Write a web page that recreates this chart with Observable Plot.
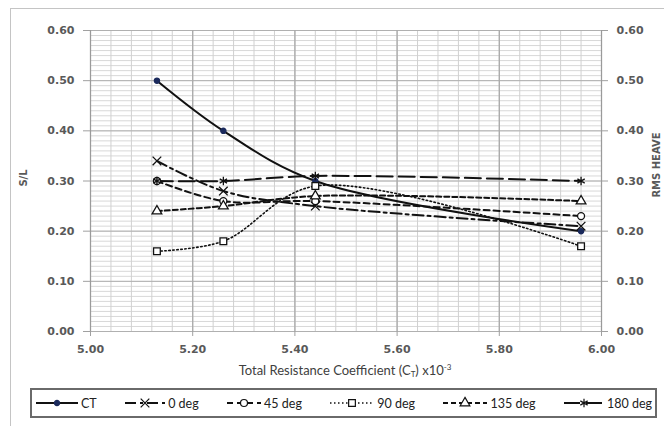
<!DOCTYPE html>
<html><head><meta charset="utf-8">
<script src="https://cdn.jsdelivr.net/npm/d3@7"></script>
<script src="https://cdn.jsdelivr.net/npm/@observablehq/plot@0.6"></script>
<style>
body{margin:0;background:#fff;}
#wrap{position:relative;width:664px;height:426px;overflow:hidden;background:#fff;}
#frame{position:absolute;left:10px;top:8px;width:720px;height:480px;border:1px solid #c4c4c4;}
#chart{position:absolute;left:0;top:0;}
#xtitle{position:absolute;left:345px;top:362px;transform:translateX(-50%);font:13px Lato,sans-serif;color:#404040;white-space:nowrap;}
#xtitle sub{font-size:8px;vertical-align:-2px;} #xtitle sup{font-size:8px;vertical-align:5px;}
.ylab{position:absolute;white-space:nowrap;font:bold 10px "DejaVu Sans",sans-serif;color:#595959;transform:translate(-50%,-50%) rotate(-90deg);}
#legend{position:absolute;left:30px;top:388px;width:627px;height:30px;border:2px solid #6a6a6a;box-sizing:border-box;display:flex;align-items:center;justify-content:space-between;padding:0 3px 0 4px;font:12.5px Lato,sans-serif;color:#222;}
#legend .item{display:flex;align-items:center;}
#legend svg{display:block;}
</style></head><body>
<div id="wrap">
<div id="frame"></div>
<div id="chart"></div>
<div id="xtitle">Total Resistance Coefficient (C<sub>T</sub>) x10<sup>-3</sup></div>
<div class="ylab" style="left:23px;top:178px;">S/L</div>
<div class="ylab" style="left:656px;top:165px;">RMS HEAVE</div>
<div id="legend"></div>
</div>
<script>
// ---- data ----
const series = ["CT", "0 deg", "45 deg", "90 deg", "135 deg", "180 deg"];
const xValues = [5.13, 5.26, 5.44, 5.96];
const ctValues     = [0.50, 0.40, 0.30, 0.20];
const deg0Values   = [0.34, 0.28, 0.25, 0.21];
const deg45Values  = [0.30, 0.26, 0.26, 0.23];
const deg90Values  = [0.16, 0.18, 0.29, 0.17];
const deg135Values = [0.24, 0.25, 0.27, 0.26];
const deg180Values = [0.30, 0.30, 0.31, 0.30];
const xTicks = [5.00, 5.20, 5.40, 5.60, 5.80, 6.00];
const yTicks = [0.00, 0.10, 0.20, 0.30, 0.40, 0.50, 0.60];

const values = [ctValues, deg0Values, deg45Values, deg90Values, deg135Values, deg180Values];
const rows = series.flatMap((s, i) => xValues.map((x, j) => ({series: s, x, y: values[i][j]})));

const style = {
  "CT":      {dash: null,        width: 2,   symbol: "circle",   fill: "#1b2a5c", stroke: "#1b2a5c", r: 2.6, legendW: 42},
  "0 deg":   {dash: "11,4,3,4",  width: 2,   symbol: "times",    fill: "none",    stroke: "#111", r: 4,   legendW: 40},
  "45 deg":  {dash: "6,4",       width: 2,   symbol: "circle",   fill: "white",   stroke: "#111", r: 3.5, legendW: 34},
  "90 deg":  {dash: "1.5,2.5",   width: 1.6, symbol: "square",   fill: "white",   stroke: "#111", r: 3.8, legendW: 44},
  "135 deg": {dash: "5,3",       width: 2,   symbol: "triangle", fill: "white",   stroke: "#111", r: 3.6, legendW: 44},
  "180 deg": {dash: "16,6",      width: 2,   symbol: "asterisk", fill: "none",    stroke: "#111", r: 4,   legendW: 40}
};

const yMinor = d3.range(0, 61).map(i => i / 100);
const xMinor = d3.range(0, 26).map(i => 5 + i * 0.04);

const marks = [
  Plot.ruleY(yMinor, {stroke: "#d8d8d8", strokeWidth: 1}),
  Plot.ruleX(xMinor, {stroke: "#d0d0d0", strokeWidth: 1}),
  Plot.ruleY(yTicks, {stroke: "#b0b0b0", strokeWidth: 1}),
  Plot.ruleX(xTicks, {stroke: "#aaaaaa", strokeWidth: 1.3}),
  Plot.ruleX([5, 6], {stroke: "#9a9a9a", strokeWidth: 1}),
  Plot.axisY(yTicks, {anchor: "left", tickFormat: d => d.toFixed(2), tickSize: 7, tickPadding: 9, fontSize: 11, fontWeight: "bold", stroke: "#a0a0a0", fill: "#595959", label: null}),
  Plot.axisY(yTicks, {anchor: "right", tickFormat: d => d.toFixed(2), tickSize: 6, tickPadding: 9, fontSize: 11, fontWeight: "bold", stroke: "#a0a0a0", fill: "#595959", label: null}),
  Plot.axisX(xTicks, {anchor: "bottom", tickFormat: d => d.toFixed(2), tickSize: 5, tickPadding: 9, fontSize: 11, fontWeight: "bold", stroke: "#a0a0a0", fill: "#595959", label: null})
];
for (const s of series) {
  const st = style[s];
  const data = rows.filter(d => d.series === s);
  marks.push(Plot.line(data, {x: "x", y: "y", stroke: "#111", strokeWidth: st.width, strokeDasharray: st.dash, curve: "catmull-rom"}));
}
for (const s of series) {
  const st = style[s];
  const data = rows.filter(d => d.series === s);
  marks.push(Plot.dot(data, {x: "x", y: "y", symbol: () => st.symbol, r: st.r, fill: st.fill, stroke: st.stroke, strokeWidth: 1.3}));
}

const chart = Plot.plot({
  width: 664, height: 380,
  marginLeft: 90, marginRight: 63, marginTop: 30, marginBottom: 49,
  x: {domain: [5, 6], axis: null},
  y: {domain: [0, 0.6], axis: null},
  symbol: {type: "identity"},
  style: {fontFamily: "'DejaVu Sans', sans-serif", background: "transparent", overflow: "visible"},
  marks
});
document.getElementById("chart").append(chart);

// legend
const legend = d3.select("#legend");
const symMap = {circle: d3.symbolCircle, times: d3.symbolTimes, square: d3.symbolSquare, triangle: d3.symbolTriangle, asterisk: d3.symbolAsterisk};
for (const s of series) {
  const st = style[s];
  const item = legend.append("div").attr("class", "item");
  const w = st.legendW;
  const svg = item.append("svg").attr("width", w).attr("height", 14);
  svg.append("line").attr("x1", 0).attr("x2", w).attr("y1", 7).attr("y2", 7)
    .attr("stroke", "#111").attr("stroke-width", st.width).attr("stroke-dasharray", st.dash);
  svg.append("path").attr("d", d3.symbol(symMap[st.symbol], Math.PI * st.r * st.r)())
    .attr("transform", `translate(${w / 2},7)`).attr("fill", st.fill).attr("stroke", st.stroke).attr("stroke-width", 1.2);
  item.append("span").style("margin-left", "3px").text(s);
}
</script>
</body></html>
